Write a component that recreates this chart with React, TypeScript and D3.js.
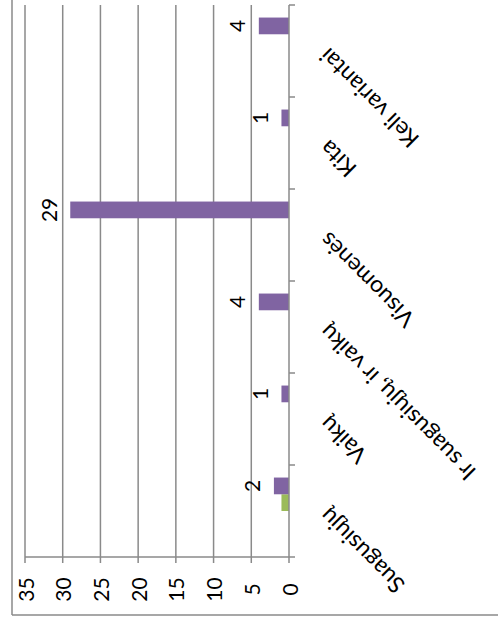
import React from "react";
import * as d3 from "d3";

const categories = ["Suagusiųjų", "Vaikų", "Ir suagusiųjų, ir vaikų", "Visuomenės", "Kita", "Keli variantai"];
const seriesNames = ["S1", "S2", "S3", "S4"];
const seriesBlue = [0, 0, 0, 0, 0, 0];
const seriesRed = [0, 0, 0, 0, 0, 0];
const seriesGreen = [1, 0, 0, 0, 0, 0];
const seriesPurple = [2, 1, 4, 29, 1, 4];
const valueTicks = [0, 5, 10, 15, 20, 25, 30, 35];

const W = 498;
const H = 623;
const FONT = "Lato, 'Open Sans', sans-serif";
const GRID = "#8a8a8a";

export default function App() {
  const axisX = 289;
  const top = 5;
  const bottom = 557;
  const x = d3.scaleLinear().domain([0, 35]).range([axisX, 25]);
  const band = d3.scaleBand<string>().domain(categories).range([bottom, top]).paddingInner(0).paddingOuter(0);
  const sub = d3.scaleBand<string>().domain(["S4", "S3", "S2", "S1"]).range([0, band.bandwidth()]).paddingInner(0).paddingOuter(0.75);
  const data: Record<string, number[]> = { S1: seriesBlue, S2: seriesRed, S3: seriesGreen, S4: seriesPurple };
  const colors: Record<string, string> = { S1: "#4F81BD", S2: "#C0504D", S3: "#9BBB59", S4: "#8064A2" };

  const boundaries = d3.range(categories.length + 1).map((i) => bottom - i * band.step());

  return (
    <svg width={W} height={H} style={{ position: "absolute", left: 0, top: 0, background: "#fff" }}>
      <line x1={12} y1={0} x2={12} y2={615} stroke={GRID} strokeWidth={1.5} />
      <line x1={12} y1={615} x2={W} y2={615} stroke={GRID} strokeWidth={1.5} />
      {valueTicks.filter((t) => t > 0).map((t) => (
        <line key={"g" + t} x1={x(t)} x2={x(t)} y1={top} y2={bottom} stroke={GRID} strokeWidth={1.5} />
      ))}
      <line x1={x(35)} x2={axisX} y1={bottom} y2={bottom} stroke={GRID} strokeWidth={1.5} />
      {valueTicks.map((t) => (
        <line key={"t" + t} x1={x(t)} x2={x(t)} y1={bottom} y2={bottom + 6} stroke={GRID} strokeWidth={1.5} />
      ))}
      {valueTicks.map((t) => (
        <text key={"l" + t} transform={`translate(${x(t)},${589.5}) rotate(-90)`} textAnchor="middle" dominantBaseline="central"
          fontFamily={FONT} fontSize={21} fill="#000">{t}</text>
      ))}
      {seriesNames.map((s) =>
        categories.map((c, i) => {
          const v = data[s][i];
          if (!v) return null;
          const y0 = (band(c) as number) + (sub(s) as number);
          return <rect key={s + c} x={x(v)} y={y0} width={x(0) - x(v)} height={sub.bandwidth()} fill={colors[s]} />;
        })
      )}
      {categories.map((c, i) => {
        const v = seriesPurple[i];
        const yc = (band(c) as number) + (sub("S4") as number) + sub.bandwidth() / 2;
        return (
          <text key={"d" + c} transform={`translate(${x(v) - 22},${yc}) rotate(-90)`} textAnchor="middle" dominantBaseline="central"
            fontFamily={FONT} fontSize={21} fill="#000">{v}</text>
        );
      })}
      <line x1={axisX} x2={axisX} y1={top} y2={bottom} stroke={GRID} strokeWidth={1.5} />
      {boundaries.map((b, i) => (
        <line key={"ct" + i} x1={axisX} x2={axisX + 6} y1={b} y2={b} stroke={GRID} strokeWidth={1.5} />
      ))}
      {categories.map((c) => {
        const yc = (band(c) as number) + band.bandwidth() / 2;
        return (
          <text key={"c" + c} transform={`translate(${axisX + 34},${yc + 2}) rotate(-135)`} textAnchor="end" dominantBaseline="central"
            fontFamily={FONT} fontSize={23} fill="#000">{c}</text>
        );
      })}
    </svg>
  );
}
